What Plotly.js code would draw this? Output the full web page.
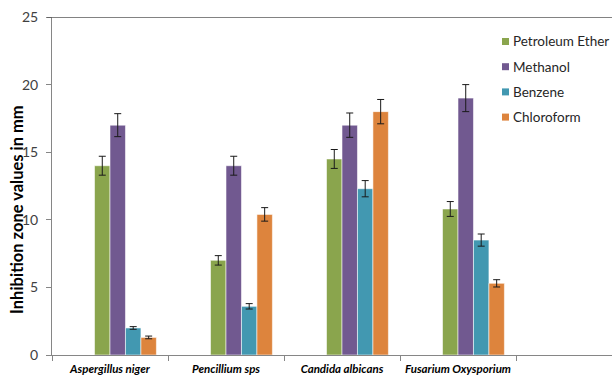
<!DOCTYPE html>
<html>
<head>
<meta charset="utf-8">
<script src="https://cdn.plot.ly/plotly-3.0.1.min.js"></script>
<style>
  html, body { margin: 0; padding: 0; background: #ffffff; }
  #chart { width: 612px; height: 379px; }
</style>
</head>
<body>
<div id="chart"></div>
<script>
// Fungal strains tested
const organisms = ["Aspergillus niger", "Pencillium sps", "Candida albicans", "Fusarium Oxysporium"];

// Solvent extracts
const solvents = ["Petroleum Ether", "Methanol", "Benzene", "Chloroform"];

// Mean inhibition zone (mm) per solvent, one value per organism
const petroleumEther = [14.0, 7.0, 14.5, 10.8];
const methanol       = [17.0, 14.0, 17.0, 19.0];
const benzene        = [2.0, 3.6, 12.3, 8.5];
const chloroform     = [1.3, 10.4, 18.0, 5.3];

// Error bar half-widths (mm)
const petroleumEtherErr = [0.7, 0.35, 0.7, 0.55];
const methanolErr       = [0.85, 0.7, 0.9, 1.0];
const benzeneErr        = [0.1, 0.2, 0.6, 0.45];
const chloroformErr     = [0.1, 0.5, 0.9, 0.27];

const yTicks = [0, 5, 10, 15, 20, 25];
const yTitle = "Inhibition zone values in mm";

const values = [petroleumEther, methanol, benzene, chloroform];
const errors = [petroleumEtherErr, methanolErr, benzeneErr, chloroformErr];
const colors = ["#8aa54d", "#715990", "#4298b1", "#dd843d"];

// Plot area in pixels (used to place the legend and axis title)
const plotLeft = 52, plotRight = 612, plotTop = 17, plotBottom = 355;
const px = v => (v - plotLeft) / (plotRight - plotLeft);
const py = v => (plotBottom - v) / (plotBottom - plotTop);

// Bars laid out as slots 3..6 of a six-slot cluster with 150% gap
const slot = 1 / 7.5;
const traces = solvents.map((name, i) => ({
  type: "bar",
  name: name,
  x: organisms,
  y: values[i],
  width: slot,
  offset: -3 * slot + (i + 2) * slot,
  marker: { color: colors[i], line: { color: "rgba(255,255,255,0.55)", width: 1 } },
  error_y: { type: "data", array: errors[i], visible: true, color: "#1a1a1a", thickness: 1, width: 3.5 },
  showlegend: false,
  hoverinfo: "x+y+name"
}));

// Compact legend: small colour squares with labels beside them
const legendShapes = [];
const legendLabels = [];
solvents.forEach((name, i) => {
  const cy = 41.5 + i * 25.2;
  legendShapes.push({
    type: "rect", xref: "paper", yref: "paper",
    x0: px(502), x1: px(509), y0: py(cy + 3.5), y1: py(cy - 3.5),
    fillcolor: colors[i], line: { width: 0 }
  });
  legendLabels.push({
    xref: "paper", yref: "paper", x: px(511), y: py(cy),
    xanchor: "left", yanchor: "middle", showarrow: false,
    text: name,
    font: { family: "Lato, sans-serif", size: 13.5, color: "#262626" }
  });
});

// Vertical axis title
const titleNote = {
  xref: "paper", yref: "paper", x: px(17), y: py(210),
  xanchor: "center", yanchor: "middle", showarrow: false,
  textangle: -90,
  text: yTitle,
  font: { family: "Lato, sans-serif", size: 16.5, color: "#000000", weight: "bold" }
};

const layout = {
  width: 612,
  height: 379,
  margin: { l: plotLeft, r: 612 - plotRight, t: plotTop, b: 379 - plotBottom },
  paper_bgcolor: "#ffffff",
  plot_bgcolor: "rgba(0,0,0,0)",
  barmode: "overlay",
  font: { family: "Lato, 'Open Sans', sans-serif", size: 13, color: "#404040" },
  showlegend: false,
  xaxis: {
    type: "category",
    range: [-0.5, -0.5 + 560 / 116],
    tickson: "boundaries",
    ticks: "outside",
    ticklen: 5,
    tickcolor: "#868686",
    showline: true,
    linecolor: "#868686",
    linewidth: 1,
    showgrid: false,
    zeroline: false,
    fixedrange: true,
    ticklabelstandoff: 3,
    tickfont: { family: "Lato, sans-serif", size: 11.5, color: "#000000", weight: "bold", style: "italic" }
  },
  yaxis: {
    range: [0, 25],
    tickvals: yTicks,
    ticktext: yTicks.map(String),
    ticks: "outside",
    ticklen: 5,
    tickcolor: "#868686",
    showline: true,
    linecolor: "#868686",
    linewidth: 1,
    showgrid: false,
    zeroline: false,
    fixedrange: true,
    ticklabelstandoff: 5,
    tickfont: { family: "Lato, sans-serif", size: 14, color: "#404040" }
  },
  shapes: [{
    type: "line", xref: "paper", yref: "y",
    x0: px(47), x1: 1, y0: 25, y1: 25,
    line: { color: "#595959", width: 1.3 }
  }].concat(legendShapes),
  annotations: legendLabels.concat([titleNote])
};

Plotly.newPlot("chart", traces, layout, { staticPlot: true, displayModeBar: false });
</script>
</body>
</html>
